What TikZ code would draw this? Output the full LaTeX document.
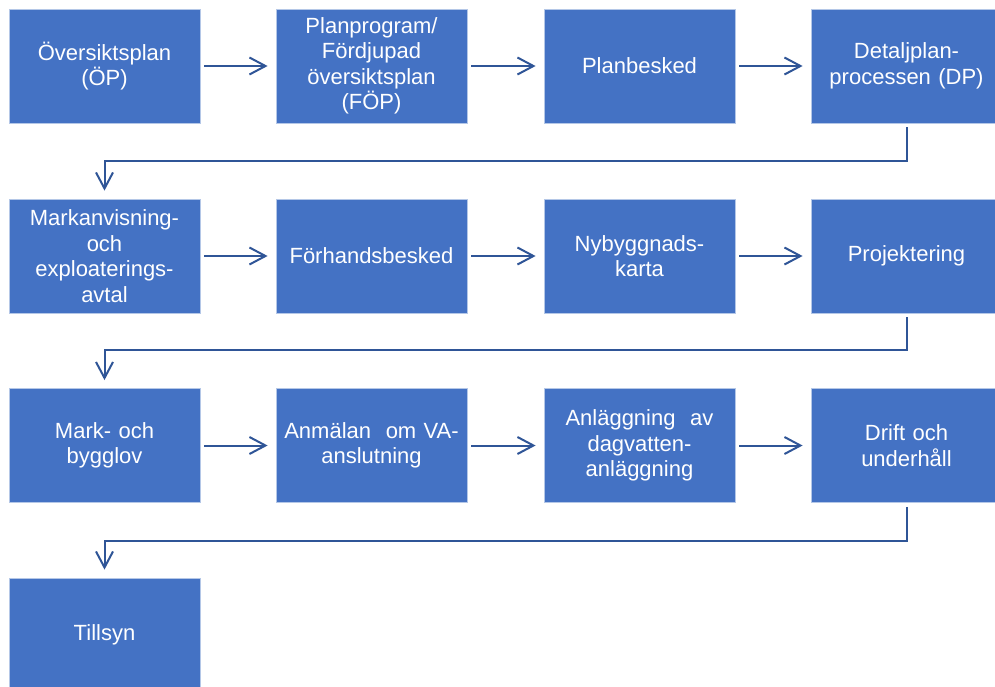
\documentclass[tikz,border=0pt]{standalone}
\usepackage{fontspec}
\setmainfont{Liberation Sans}
\usetikzlibrary{arrows.meta,calc}
\definecolor{boxblue}{HTML}{4472C4}
\definecolor{boxedge}{HTML}{B4C7E7}
\definecolor{arrowblue}{HTML}{2F5597}
\begin{document}
\begin{tikzpicture}[x=1pt,y=-1pt,
  stepbox/.style={rectangle, fill=boxblue, draw=boxedge, line width=0.8pt,
    minimum width=191pt, minimum height=114pt, inner sep=0pt,
    text=white, text width=185pt, align=center,
    font=\fontsize{22}{25.5}\selectfont},
  arr/.style={draw=arrowblue, line width=2pt,
    -{Straight Barb[length=16pt,width=17pt,line width=2pt]}}]
\useasboundingbox (0,0) rectangle (995,686);
\begin{scope}
\clip (0,0) rectangle (995,686);
\node[stepbox] (op)   at (104.5,66) {Översiktsplan\\(ÖP)};
\node[stepbox] (fop)  at (371.5,66) {Planprogram/\\Fördjupad\\översiktsplan\\(FÖP)};
\node[stepbox] (pb)   at (639.5,66) {Planbesked};
\node[stepbox] (dp)   at (906.5,66) {Detaljplan-\\processen (DP)};
\node[stepbox] (mark) at (104.5,256) {Markanvisning-\\och\\exploaterings-\\avtal};
\node[stepbox] (fb)   at (371.5,256) {Förhandsbesked};
\node[stepbox] (nyb)  at (639.5,256) {Nybyggnads-\\karta};
\node[stepbox] (proj) at (906.5,256) {Projektering};
\node[stepbox] (bygg) at (104.5,445.5) {Mark- och\\bygglov};
\node[stepbox] (va)   at (371.5,445.5) {Anmälan~ om VA-\\anslutning};
\node[stepbox] (anl)  at (639.5,445.5) {Anläggning~ av\\dagvatten-\\anläggning};
\node[stepbox] (drift) at (906.5,445.5) {Drift och\\underhåll};
\node[stepbox] (till) at (104.5,635) {Tillsyn};
\end{scope}
\draw[arr] ([xshift=4pt]op.east) -- ([xshift=-8pt]fop.west);
\draw[arr] ([xshift=4pt]fop.east) -- ([xshift=-8pt]pb.west);
\draw[arr] ([xshift=4pt]pb.east) -- ([xshift=-8pt]dp.west);
\draw[arr] ([yshift=-4pt]dp.south) -- ([yshift=-38pt]dp.south) -| ([yshift=8pt]mark.north);
\draw[arr] ([xshift=4pt]mark.east) -- ([xshift=-8pt]fb.west);
\draw[arr] ([xshift=4pt]fb.east) -- ([xshift=-8pt]nyb.west);
\draw[arr] ([xshift=4pt]nyb.east) -- ([xshift=-8pt]proj.west);
\draw[arr] ([yshift=-4pt]proj.south) -- ([yshift=-37pt]proj.south) -| ([yshift=8pt]bygg.north);
\draw[arr] ([xshift=4pt]bygg.east) -- ([xshift=-8pt]va.west);
\draw[arr] ([xshift=4pt]va.east) -- ([xshift=-8pt]anl.west);
\draw[arr] ([xshift=4pt]anl.east) -- ([xshift=-8pt]drift.west);
\draw[arr] ([yshift=-4pt]drift.south) -- ([yshift=-38pt]drift.south) -| ([yshift=8pt]till.north);
\end{tikzpicture}
\end{document}
